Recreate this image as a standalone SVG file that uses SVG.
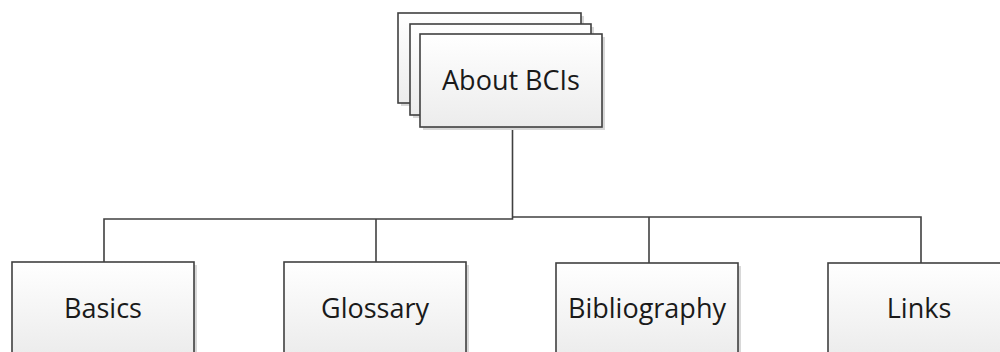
<svg xmlns="http://www.w3.org/2000/svg" width="1000" height="352" viewBox="0 0 1000 352">
<defs>
<linearGradient id="g" x1="0" y1="0" x2="0" y2="1">
<stop offset="0" stop-color="#ffffff"/>
<stop offset="1" stop-color="#ececec"/>
</linearGradient>
</defs>
<style>
.box{fill:url(#g);stroke:#404040;stroke-width:1.6}
.sh{fill:#d8d8d8}
.t{font-family:"Open Sans","Noto Sans",sans-serif;font-size:27px;fill:#1a1a1a;text-anchor:middle}
.c{fill:none;stroke:#404040;stroke-width:1.6}
</style>
<g id="connectors">
<path class="c" d="M512.5 127V219H104V262"/>
<path class="c" d="M512.5 217H921V263"/>
<path class="c" d="M376 219V262"/>
<path class="c" d="M649 217V263"/>
</g>
<g id="about">
<rect class="sh" x="401" y="16" width="183" height="90"/>
<rect class="box" x="398" y="13" width="183" height="90"/>
<rect class="sh" x="413" y="27" width="181" height="91"/>
<rect class="box" x="410" y="24" width="181" height="91"/>
<rect class="sh" x="423" y="37" width="182" height="93"/>
<rect class="box" x="420" y="34" width="182" height="93"/>
<text class="t" x="511" y="90">About BCIs</text>
</g>
<g id="basics">
<rect class="sh" x="15" y="265" width="182" height="92"/>
<rect class="box" x="12" y="262" width="182" height="92"/>
<text class="t" x="103" y="318">Basics</text>
</g>
<g id="glossary">
<rect class="sh" x="287" y="265" width="182" height="92"/>
<rect class="box" x="284" y="262" width="182" height="92"/>
<text class="t" x="375" y="318">Glossary</text>
</g>
<g id="bibliography">
<rect class="sh" x="559" y="266" width="182" height="92"/>
<rect class="box" x="556" y="263" width="182" height="92"/>
<text class="t" x="647" y="318">Bibliography</text>
</g>
<g id="links">
<rect class="sh" x="831" y="266" width="182" height="92"/>
<rect class="box" x="828" y="263" width="182" height="92"/>
<text class="t" x="919" y="318">Links</text>
</g>
</svg>
